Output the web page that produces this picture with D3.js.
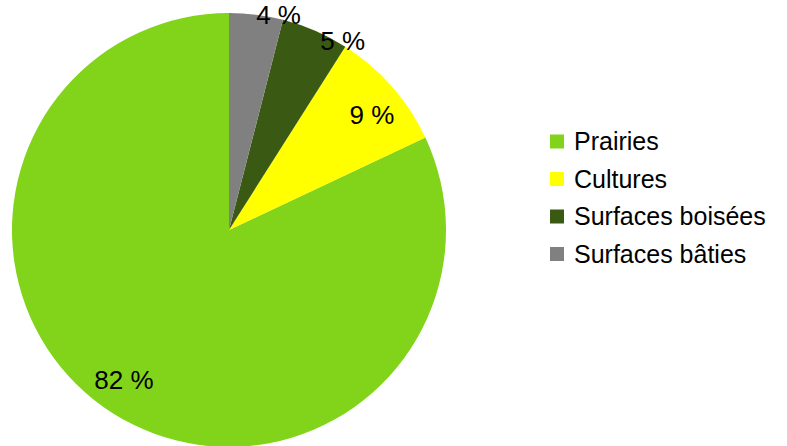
<!DOCTYPE html>
<html><head><meta charset="utf-8">
<script src="https://cdn.jsdelivr.net/npm/d3@7"></script>
<style>body{margin:0;background:#fff}svg{display:block}text{font-family:"Liberation Sans",Arial,sans-serif}</style>
</head><body><svg id="c" width="787" height="446"></svg>
<script>
const categories = ["Prairies", "Cultures", "Surfaces boisées", "Surfaces bâties"];
const values = [82, 9, 5, 4];
const labels = ["82 %", "9 %", "5 %", "4 %"];
const colors = ["#81d41a", "#ffff00", "#3a5a14", "#808080"];

const svg = d3.select("#c");
const cx = 229, cy = 230, r = 217;
const data = categories.map((c, i) => ({cat: c, v: values[i], lab: labels[i], col: colors[i]}));
const pie = d3.pie().sort(null).value(d => d.v).startAngle(0).endAngle(-2 * Math.PI);
const arcs = pie(data);
const arc = d3.arc().innerRadius(0).outerRadius(r);
const g = svg.append("g").attr("transform", `translate(${cx},${cy})`);
g.selectAll("path").data(arcs).join("path").attr("d", arc).attr("fill", d => d.data.col);

g.selectAll("text.lab").data(arcs).join("text").attr("class", "lab")
  .attr("font-size", 26).attr("fill", "#000").attr("text-anchor", "middle")
  .attr("dy", "0.35em")
  .attr("transform", d => {
    let a, rr;
    if (d.data.v >= 6) {
      a = (d.startAngle + d.endAngle) / 2 + 2 * Math.PI + 0.045;
      rr = r * 0.845;
    } else {
      // small slices: label placed near the slice's clockwise boundary at the rim
      a = Math.max(d.startAngle, d.endAngle) + 2 * Math.PI - 0.025;
      rr = r + 4;
    }
    return `translate(${Math.sin(a) * rr},${-Math.cos(a) * rr})`;
  })
  .text(d => d.data.lab);

const leg = svg.append("g").attr("transform", "translate(550,0)");
const ly = d3.scaleBand().domain(categories).range([123.5, 273.5]);
const items = leg.selectAll("g").data(data).join("g")
  .attr("transform", d => `translate(0,${ly(d.cat)})`);
items.append("rect").attr("x", 0).attr("y", 11).attr("width", 14).attr("height", 14).attr("fill", d => d.col);
items.append("text").attr("x", 24).attr("y", 26.5).attr("font-size", 25).attr("fill", "#000").text(d => d.cat);
</script></body></html>
